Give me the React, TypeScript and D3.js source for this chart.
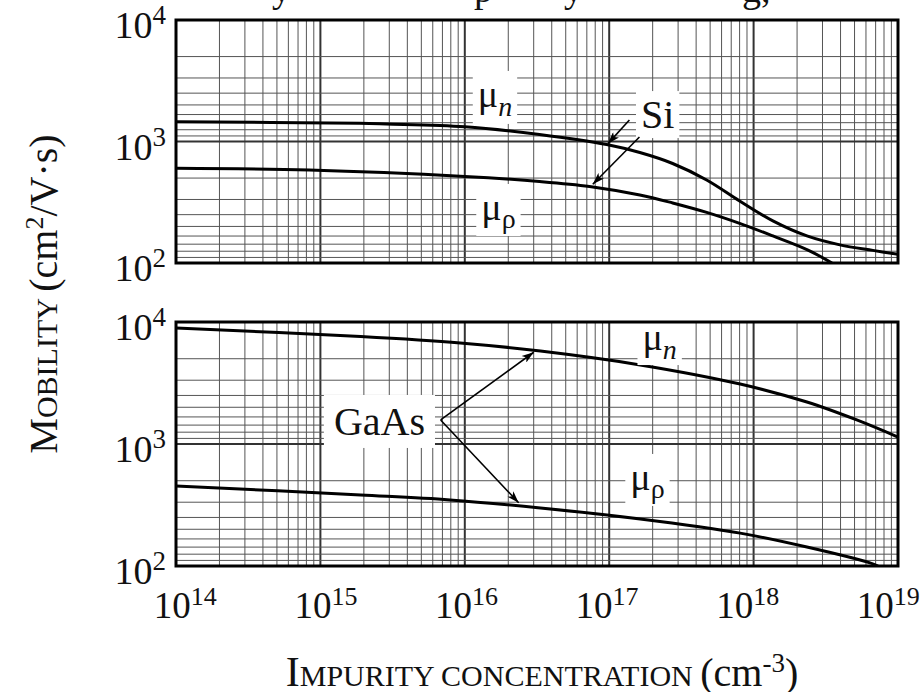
import React, { useEffect, useRef } from "react";
import * as d3 from "d3";

// ---------- data ----------
const xDecades = [14, 15, 16, 17, 18, 19];
const yDecades = [2, 3, 4];

// Si (top panel)
const siElectronN = [1e14, 1.86e15, 2.86e15, 1e16, 3.29e16, 9.6e16, 1.63e17, 2.75e17, 4.73e17, 8e17, 1.36e18, 2.34e18, 3.96e18, 6.7e18, 1e19];
const siElectronMu = [1455, 1413, 1394, 1324, 1143, 944, 811, 659, 482, 324, 222, 167, 141, 127, 118];
const siHoleN = [1e14, 8.36e14, 1e16, 3.29e16, 7.3e16, 1.63e17, 2.75e17, 4.73e17, 8e17, 1.36e18, 2.34e18, 3.49e18];
const siHoleMu = [601, 582, 515, 469, 427, 363, 312, 261, 212, 167, 129, 100];

// GaAs (bottom panel)
const gaasElectronN = [1e14, 1.9e15, 9.3e15, 3.34e16, 1.64e17, 8.07e17, 2.34e18, 5.18e18, 1e19];
const gaasElectronMu = [8930, 7600, 6730, 5780, 4450, 3100, 2208, 1574, 1140];
const gaasHoleN = [1e14, 1.9e15, 7.9e15, 3.34e16, 1.64e17, 8.07e17, 2.34e18, 6.4e18, 7.28e18];
const gaasHoleMu = [453, 382, 348, 299, 243, 186, 143, 106, 100];

const FONT = "'Liberation Serif', 'Times New Roman', Times, serif";

export default function App() {
  const ref = useRef<SVGSVGElement>(null);

  useEffect(() => {
    const svg = d3.select(ref.current);
    svg.selectAll("*").remove();
    svg.style("font-family", FONT);

    const left = 176, right = 898;
    const x = d3.scaleLog().domain([1e14, 1e19]).range([left, right]);

    const defs = svg.append("defs");
    defs.append("marker")
      .attr("id", "arrow")
      .attr("viewBox", "0 0 12 8")
      .attr("refX", 12).attr("refY", 4)
      .attr("markerWidth", 13).attr("markerHeight", 8)
      .attr("markerUnits", "userSpaceOnUse")
      .attr("orient", "auto")
      .append("path").attr("d", "M0,0 L12,4 L0,8 L3,4 Z").attr("fill", "#000");

    // caption fragments cut off at the top (only descenders visible in the reference)
    const cap = svg.append("text").attr("y", 2).attr("font-size", 38).attr("fill", "#111");
    [["y", 272], ["p", 474], ["y", 564], ["g,", 742]].forEach(([t, px]) => {
      cap.append("tspan").attr("x", px as number).text(t as string);
    });

    const panels = [
      { top: 20, bottom: 263, series: [[siElectronN, siElectronMu], [siHoleN, siHoleMu]] },
      { top: 322, bottom: 566, series: [[gaasElectronN, gaasElectronMu], [gaasHoleN, gaasHoleMu]] },
    ];

    const ys: d3.ScaleLogarithmic<number, number>[] = [];
    const frameLayer: (() => void)[] = [];

    panels.forEach((p, pi) => {
      const y = d3.scaleLog().domain([1e2, 1e4]).range([p.bottom, p.top]);
      ys.push(y);
      const g = svg.append("g");
      const clipId = `clip${pi}`;
      defs.append("clipPath").attr("id", clipId)
        .append("rect").attr("x", left).attr("y", p.top).attr("width", right - left).attr("height", p.bottom - p.top);

      // vertical grid
      const minorX: number[] = [];
      xDecades.slice(0, -1).forEach((d) => {
        for (let k = 2; k <= 9; k++) minorX.push(k * Math.pow(10, d));
      });
      g.selectAll(".vminor").data(minorX).enter().append("line")
        .attr("x1", (v) => x(v)).attr("x2", (v) => x(v))
        .attr("y1", p.top).attr("y2", p.bottom)
        .attr("stroke", "#555").attr("stroke-width", 1);
      g.selectAll(".vmajor").data(xDecades.slice(1, -1)).enter().append("line")
        .attr("x1", (d) => x(Math.pow(10, d))).attr("x2", (d) => x(Math.pow(10, d)))
        .attr("y1", p.top).attr("y2", p.bottom)
        .attr("stroke", "#333").attr("stroke-width", 2);

      // horizontal grid (graph paper printed with dense lines at the bottom of each decade)
      const minorY: number[] = [];
      yDecades.slice(0, -1).forEach((d) => {
        for (let k = 2; k <= 9; k++) minorY.push(Math.pow(10, d + 1) / k);
      });
      g.selectAll(".hminor").data(minorY).enter().append("line")
        .attr("x1", left).attr("x2", right)
        .attr("y1", (v) => y(v)).attr("y2", (v) => y(v))
        .attr("stroke", "#555").attr("stroke-width", 1);
      g.selectAll(".hmajor").data(yDecades.slice(1, -1)).enter().append("line")
        .attr("x1", left).attr("x2", right)
        .attr("y1", (d) => y(Math.pow(10, d))).attr("y2", (d) => y(Math.pow(10, d)))
        .attr("stroke", "#333").attr("stroke-width", 2);

      // y tick labels
      yDecades.forEach((d) => {
        const t = g.append("text")
          .attr("x", 166).attr("y", y(Math.pow(10, d)) + 18)
          .attr("text-anchor", "end").attr("fill", "#111");
        t.append("tspan").attr("font-size", 38).text("10");
        t.append("tspan").attr("font-size", 27).attr("dy", -14).text(String(d));
      });

      // curves
      const line = d3.line<[number, number]>()
        .x((d) => x(d[0])).y((d) => y(d[1]))
        .curve(d3.curveCatmullRom.alpha(0.5));
      p.series.forEach(([ns, mus]) => {
        const pts = ns.map((n, i) => [n, mus[i]] as [number, number]);
        g.append("path").attr("d", line(pts))
          .attr("fill", "none").attr("stroke", "#000").attr("stroke-width", 3)
          .attr("stroke-linejoin", "round")
          .attr("clip-path", `url(#${clipId})`);
      });

      frameLayer.push(() => {
        svg.append("rect").attr("x", left).attr("y", p.top)
          .attr("width", right - left).attr("height", p.bottom - p.top)
          .attr("fill", "none").attr("stroke", "#000").attr("stroke-width", 3);
      });
    });

    const [yTop, yBot] = ys;

    // label helper with white background
    const label = (px: number, py: number, parts: { t: string; size: number; dy?: number; italic?: boolean }[], padX = 5, padY = 2) => {
      const gg = svg.append("g");
      const rect = gg.append("rect").attr("fill", "#fff");
      const t = gg.append("text").attr("x", px).attr("y", py).attr("fill", "#111");
      parts.forEach((pp) => {
        const s = t.append("tspan").attr("font-size", pp.size).text(pp.t);
        if (pp.dy) s.attr("dy", pp.dy);
        if (pp.italic) s.attr("font-style", "italic");
      });
      const bb = (t.node() as SVGTextElement).getBBox();
      rect.attr("x", bb.x - padX).attr("y", bb.y - padY).attr("width", bb.width + 2 * padX).attr("height", bb.height + 2 * padY);
    };

    const arrow = (x1: number, y1: number, x2: number, y2: number) => {
      svg.append("line").attr("x1", x1).attr("y1", y1).attr("x2", x2).attr("y2", y2)
        .attr("stroke", "#000").attr("stroke-width", 1.6).attr("marker-end", "url(#arrow)");
    };

    // top panel annotations
    label(x(1.23e16), yTop(1925), [{ t: "μ", size: 38 }, { t: "n", size: 28, dy: 9, italic: true }]);
    label(x(1.3e16), yTop(226), [{ t: "μ", size: 38 }, { t: "ρ", size: 28, dy: 8 }]);
    label(x(1.66e17), yTop(1290), [{ t: "Si", size: 40 }], 5, 1);
    arrow(x(1.38e17), yTop(1503), x(9.8e16), yTop(960));
    arrow(x(1.62e17), yTop(1089), x(7.7e16), yTop(445));

    // bottom panel annotations
    label(x(1.7e17), yBot(5890), [{ t: "μ", size: 38 }, { t: "n", size: 28, dy: 9, italic: true }], 5, 0);
    label(x(1.4e17), yBot(420), [{ t: "μ", size: 38 }, { t: "ρ", size: 28, dy: 8 }]);
    label(x(1.24e15), yBot(1186), [{ t: "GaAs", size: 40 }], 10, 4);
    arrow(x(6.8e15), yBot(1574), x(3.0e16), yBot(5650));
    arrow(x(6.8e15), yBot(1574), x(2.36e16), yBot(330));

    frameLayer.forEach((f) => f());

    // x tick labels
    xDecades.forEach((d) => {
      const t = svg.append("text")
        .attr("x", x(Math.pow(10, d)) + 9.3 - 3.8 * (d - 14)).attr("y", 618)
        .attr("text-anchor", "middle").attr("fill", "#111");
      t.append("tspan").attr("font-size", 37).text("10");
      t.append("tspan").attr("font-size", 26).attr("dy", -13).text(String(d));
    });

    // x axis title
    const xt = svg.append("text").attr("x", 542).attr("y", 686)
      .attr("text-anchor", "middle").attr("fill", "#111");
    xt.append("tspan").attr("font-size", 42).text("I");
    xt.append("tspan").attr("font-size", 30).text("MPURITY CONCENTRATION ");
    xt.append("tspan").attr("font-size", 40).text("(cm");
    xt.append("tspan").attr("font-size", 27).attr("dy", -14).text("-3");
    xt.append("tspan").attr("font-size", 40).attr("dy", 14).text(")");

    // y axis title
    const yt = svg.append("text")
      .attr("transform", "translate(57,294) rotate(-90)")
      .attr("text-anchor", "middle").attr("fill", "#111");
    yt.append("tspan").attr("font-size", 40).text("M");
    yt.append("tspan").attr("font-size", 30).text("OBILITY ");
    yt.append("tspan").attr("font-size", 40).text("(cm");
    yt.append("tspan").attr("font-size", 26).attr("dy", -14).text("2");
    yt.append("tspan").attr("font-size", 40).attr("dy", 14).text("/V·s)");
  }, []);

  return (
    <svg
      ref={ref}
      width={924}
      height={692}
      style={{ position: "absolute", left: 0, top: 0, background: "#fff" }}
    />
  );
}
